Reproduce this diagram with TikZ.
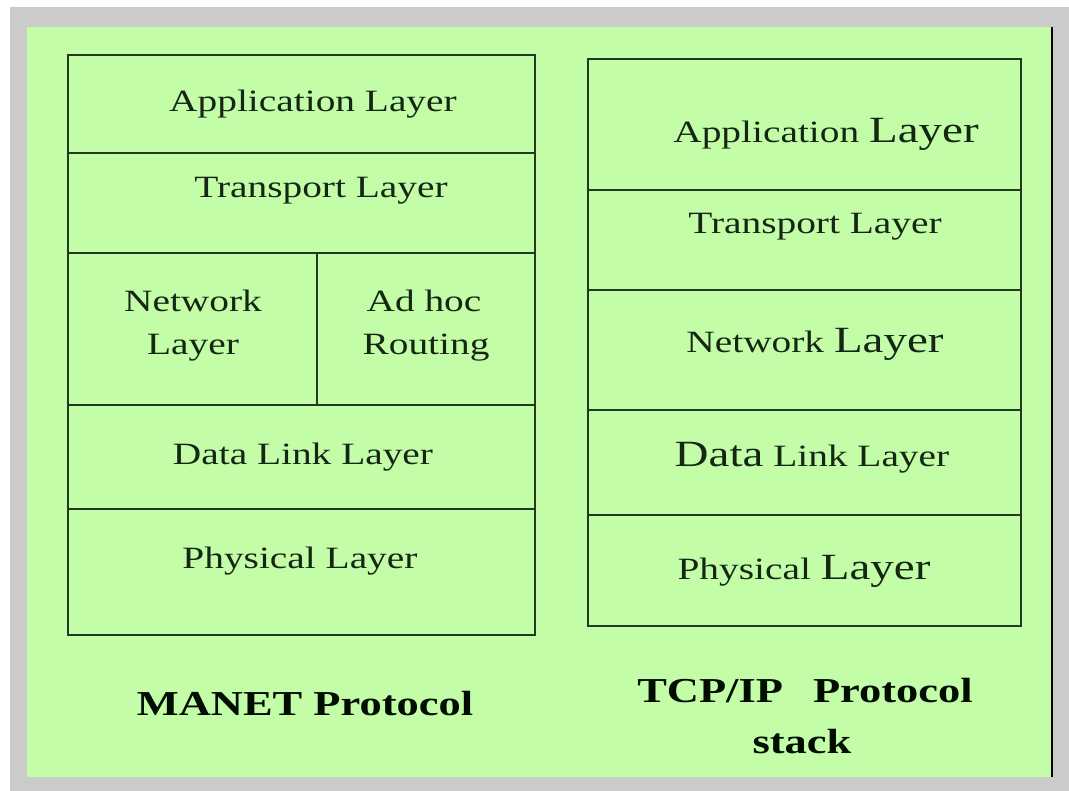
\documentclass[tikz,border=0pt]{standalone}
\usepackage{fontspec}
\setmainfont{Liberation Serif}[FakeStretch=1.27]
\definecolor{pagegreen}{HTML}{C4FDA8}
\definecolor{framegray}{HTML}{CBCBCB}
\definecolor{rulegreen}{HTML}{223A22}
\definecolor{inkgreen}{HTML}{142614}
\newcommand{\smallsz}{\fontsize{31}{37}\selectfont}
\newcommand{\largesz}{\fontsize{37}{44}\selectfont}
\begin{document}
\begin{tikzpicture}[x=1pt,y=-1pt,
  rule/.style={draw=rulegreen,line width=1.9pt},
  lbl/.style={anchor=base,inner sep=0pt,text=inkgreen,font=\smallsz},
  title/.style={anchor=base,inner sep=0pt,text=black!95!green,font=\fontsize{35}{42}\selectfont\bfseries}]
% page, shadow frame and slide area
\useasboundingbox (0,0) rectangle (1069,791);
\fill[white] (0,0) rectangle (1069,791);
\fill[framegray] (10,7) rectangle (1069,791);
\fill[pagegreen] (27,27) rectangle (1051,777);
\draw[black,line width=2pt] (1052,27) -- (1052,777);

% MANET stack
\draw[rule] (68,55) rectangle (535,635);
\draw[rule] (68,153) -- (535,153);
\draw[rule] (68,253) -- (535,253);
\draw[rule] (68,405) -- (535,405);
\draw[rule] (68,509) -- (535,509);
\draw[rule] (317,253) -- (317,405);
\node[lbl] (mapp) at (313,112) {Application Layer};
\node[lbl] (mtra) at (321,198) {Transport Layer};
\node[lbl] (mnet1) at (193,312) {Network};
\node[lbl] (mnet2) at (193,355) {Layer};
\node[lbl] (madh1) at (424,312) {Ad hoc};
\node[lbl] (madh2) at (426,355) {Routing};
\node[lbl] (mdll) at (303,465) {Data Link Layer};
\node[lbl] (mphy) at (300,568) {Physical Layer};

% TCP/IP stack
\draw[rule] (588,59) rectangle (1021,626);
\draw[rule] (588,190) -- (1021,190);
\draw[rule] (588,290) -- (1021,290);
\draw[rule] (588,410) -- (1021,410);
\draw[rule] (588,515) -- (1021,515);
\node[lbl] (tapp) at (826,143) {Application {\largesz Layer}};
\node[lbl] (ttra) at (815,234) {Transport Layer};
\node[lbl] (tnet) at (815,353) {Network {\largesz Layer}};
\node[lbl] (tdll) at (812,467) {{\largesz Data} Link Layer};
\node[lbl] (tphy) at (804,579) {Physical {\largesz Layer}};

% captions
\node[title] (cap1) at (305,715) {MANET Protocol};
\node[title] (cap2) at (805,702) {TCP/IP\hspace{30pt}Protocol};
\node[title] (cap3) at (802,753) {stack};
\end{tikzpicture}
\end{document}
